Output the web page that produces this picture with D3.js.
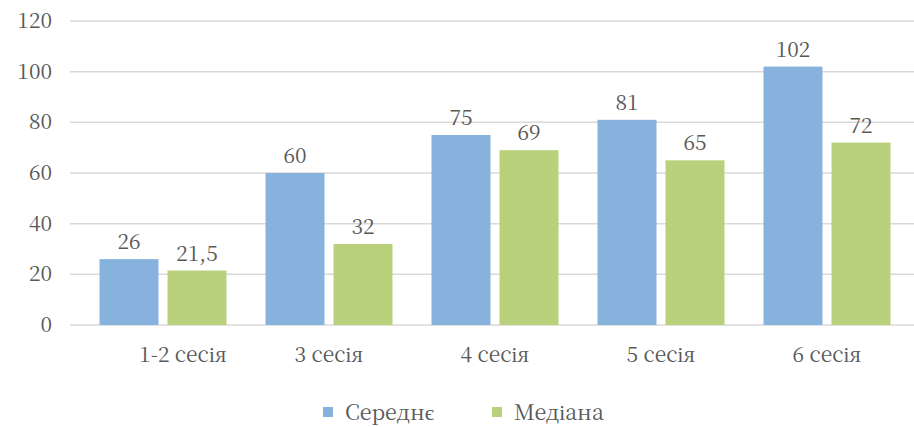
<!DOCTYPE html>
<html><head><meta charset="utf-8">
<script src="https://cdn.jsdelivr.net/npm/d3@7"></script>
<style>body{margin:0;background:#fff}svg{display:block}</style>
</head><body>
<svg id="c" width="914" height="427"></svg>
<script>
const categories = ["1-2 сесія", "3 сесія", "4 сесія", "5 сесія", "6 сесія"];
const seriesNames = ["Середнє", "Медіана"];
const meanValues = [26, 60, 75, 81, 102];
const medianValues = [21.5, 32, 69, 65, 72];
const meanLabels = ["26", "60", "75", "81", "102"];
const medianLabels = ["21,5", "32", "69", "65", "72"];
const yTicks = [0, 20, 40, 60, 80, 100, 120];
const colors = ["#86B2DD", "#BAD17C"];

const svg = d3.select("#c");
const serif = "Noto Serif CJK SC";
const y = d3.scaleLinear().domain([0, 120]).range([325, 21]);
const x = d3.scaleBand().domain(categories).range([80, 910]).paddingInner(0).paddingOuter(0);
const bw = 59, gap = 9;

svg.append("g").selectAll("line").data(yTicks).join("line")
  .attr("x1", 70).attr("x2", 914)
  .attr("y1", d => y(d)).attr("y2", d => y(d))
  .attr("stroke", "#D9D9D9").attr("stroke-width", 1.5);

svg.append("g").selectAll("text").data(yTicks).join("text")
  .attr("x", 52).attr("y", d => y(d) + 7)
  .attr("text-anchor", "end").attr("font-family", serif).attr("font-size", "21px")
  .attr("fill", "#595959").text(d => d);

const series = [meanValues, medianValues];
const labels = [meanLabels, medianLabels];
series.forEach((vals, si) => {
  const g = svg.append("g");
  const bx = (c) => x(c) + x.bandwidth() / 2 - bw - gap / 2 + si * (bw + gap);
  g.selectAll("rect").data(categories).join("rect")
    .attr("x", c => bx(c))
    .attr("y", (c, i) => y(vals[i]))
    .attr("width", bw)
    .attr("height", (c, i) => y(0) - y(vals[i]))
    .attr("fill", colors[si]);
  g.selectAll("text").data(categories).join("text")
    .attr("x", c => bx(c) + bw / 2)
    .attr("y", (c, i) => y(vals[i]) - 10)
    .attr("text-anchor", "middle").attr("font-family", serif).attr("font-size", "21px")
    .attr("fill", "#595959").text((c, i) => labels[si][i]);
});

svg.append("g").selectAll("text").data(categories).join("text")
  .attr("x", (c, i) => x(c) + x.bandwidth() / 2 + (i === 0 ? 20 : 0))
  .attr("y", 362).attr("text-anchor", "middle")
  .attr("font-family", serif).attr("font-size", "21px").attr("fill", "#595959")
  .text(c => c);

const legX = [323, 492];
seriesNames.forEach((n, i) => {
  svg.append("rect").attr("x", legX[i]).attr("y", 407).attr("width", 10).attr("height", 10).attr("fill", colors[i]);
  svg.append("text").attr("x", legX[i] + 22).attr("y", 420)
    .attr("font-family", serif).attr("font-size", "21.5px")
    .attr("fill", "#595959").text(n);
});
</script>
</body></html>
